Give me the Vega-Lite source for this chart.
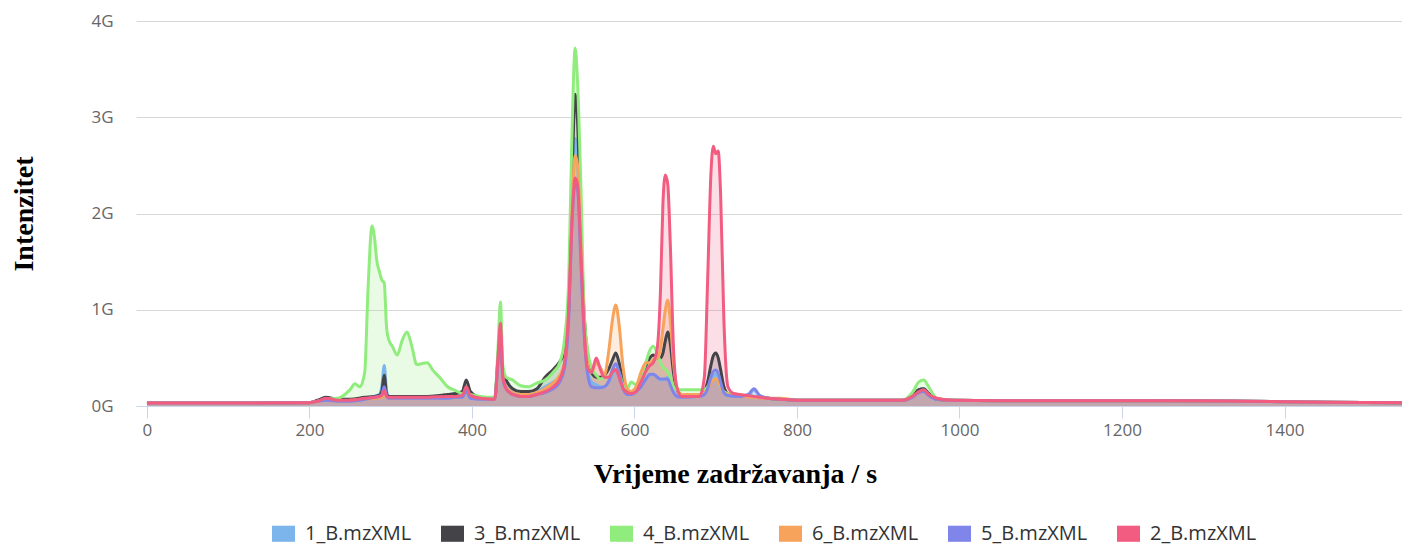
{
  "$schema": "https://vega.github.io/schema/vega-lite/v6.json",
  "width": 1266,
  "height": 385,
  "autosize": {"type": "none"},
  "padding": {"left": 136, "top": 21, "right": 0, "bottom": 141},
  "background": "white",
  "config": {"view": {"stroke": null}, "font": "Open Sans"},
  "data": {"values": [
    {"s":"1_B.mzXML","t":0,"i":0.03},{"s":"1_B.mzXML","t":100,"i":0.03},{"s":"1_B.mzXML","t":200,"i":0.035},{"s":"1_B.mzXML","t":210,"i":0.05},{"s":"1_B.mzXML","t":220,"i":0.07},{"s":"1_B.mzXML","t":235,"i":0.06},{"s":"1_B.mzXML","t":250,"i":0.06},{"s":"1_B.mzXML","t":268,"i":0.08},{"s":"1_B.mzXML","t":280,"i":0.1},{"s":"1_B.mzXML","t":286,"i":0.12},{"s":"1_B.mzXML","t":289,"i":0.2},{"s":"1_B.mzXML","t":292,"i":0.42},{"s":"1_B.mzXML","t":295,"i":0.15},{"s":"1_B.mzXML","t":298,"i":0.1},{"s":"1_B.mzXML","t":320,"i":0.09},{"s":"1_B.mzXML","t":345,"i":0.1},{"s":"1_B.mzXML","t":370,"i":0.1},{"s":"1_B.mzXML","t":388,"i":0.12},{"s":"1_B.mzXML","t":393,"i":0.2},{"s":"1_B.mzXML","t":398,"i":0.12},{"s":"1_B.mzXML","t":410,"i":0.08},{"s":"1_B.mzXML","t":428,"i":0.08},{"s":"1_B.mzXML","t":432,"i":0.5},{"s":"1_B.mzXML","t":435,"i":0.8},{"s":"1_B.mzXML","t":438,"i":0.35},{"s":"1_B.mzXML","t":442,"i":0.22},{"s":"1_B.mzXML","t":450,"i":0.15},{"s":"1_B.mzXML","t":460,"i":0.13},{"s":"1_B.mzXML","t":470,"i":0.13},{"s":"1_B.mzXML","t":480,"i":0.15},{"s":"1_B.mzXML","t":490,"i":0.2},{"s":"1_B.mzXML","t":500,"i":0.25},{"s":"1_B.mzXML","t":508,"i":0.3},{"s":"1_B.mzXML","t":514,"i":0.45},{"s":"1_B.mzXML","t":519,"i":1.1},{"s":"1_B.mzXML","t":523,"i":2.1},{"s":"1_B.mzXML","t":527,"i":2.78},{"s":"1_B.mzXML","t":530,"i":2.55},{"s":"1_B.mzXML","t":534,"i":1.6},{"s":"1_B.mzXML","t":538,"i":0.8},{"s":"1_B.mzXML","t":542,"i":0.4},{"s":"1_B.mzXML","t":547,"i":0.25},{"s":"1_B.mzXML","t":553,"i":0.22},{"s":"1_B.mzXML","t":558,"i":0.2},{"s":"1_B.mzXML","t":563,"i":0.2},{"s":"1_B.mzXML","t":568,"i":0.25},{"s":"1_B.mzXML","t":573,"i":0.32},{"s":"1_B.mzXML","t":577,"i":0.38},{"s":"1_B.mzXML","t":581,"i":0.3},{"s":"1_B.mzXML","t":586,"i":0.18},{"s":"1_B.mzXML","t":591,"i":0.12},{"s":"1_B.mzXML","t":596,"i":0.12},{"s":"1_B.mzXML","t":602,"i":0.15},{"s":"1_B.mzXML","t":608,"i":0.2},{"s":"1_B.mzXML","t":614,"i":0.28},{"s":"1_B.mzXML","t":619,"i":0.32},{"s":"1_B.mzXML","t":623,"i":0.33},{"s":"1_B.mzXML","t":628,"i":0.3},{"s":"1_B.mzXML","t":632,"i":0.27},{"s":"1_B.mzXML","t":638,"i":0.28},{"s":"1_B.mzXML","t":641,"i":0.3},{"s":"1_B.mzXML","t":644,"i":0.25},{"s":"1_B.mzXML","t":648,"i":0.15},{"s":"1_B.mzXML","t":652,"i":0.11},{"s":"1_B.mzXML","t":658,"i":0.1},{"s":"1_B.mzXML","t":680,"i":0.1},{"s":"1_B.mzXML","t":686,"i":0.12},{"s":"1_B.mzXML","t":690,"i":0.18},{"s":"1_B.mzXML","t":694,"i":0.27},{"s":"1_B.mzXML","t":697,"i":0.31},{"s":"1_B.mzXML","t":700,"i":0.33},{"s":"1_B.mzXML","t":703,"i":0.3},{"s":"1_B.mzXML","t":706,"i":0.22},{"s":"1_B.mzXML","t":710,"i":0.14},{"s":"1_B.mzXML","t":715,"i":0.11},{"s":"1_B.mzXML","t":730,"i":0.1},{"s":"1_B.mzXML","t":740,"i":0.11},{"s":"1_B.mzXML","t":747,"i":0.17},{"s":"1_B.mzXML","t":754,"i":0.11},{"s":"1_B.mzXML","t":765,"i":0.08},{"s":"1_B.mzXML","t":780,"i":0.07},{"s":"1_B.mzXML","t":800,"i":0.06},{"s":"1_B.mzXML","t":930,"i":0.06},{"s":"1_B.mzXML","t":942,"i":0.1},{"s":"1_B.mzXML","t":950,"i":0.17},{"s":"1_B.mzXML","t":956,"i":0.18},{"s":"1_B.mzXML","t":962,"i":0.13},{"s":"1_B.mzXML","t":972,"i":0.07},{"s":"1_B.mzXML","t":990,"i":0.06},{"s":"1_B.mzXML","t":1050,"i":0.055},{"s":"1_B.mzXML","t":1150,"i":0.055},{"s":"1_B.mzXML","t":1250,"i":0.055},{"s":"1_B.mzXML","t":1350,"i":0.05},{"s":"1_B.mzXML","t":1450,"i":0.04},{"s":"1_B.mzXML","t":1545,"i":0.035},

    {"s":"3_B.mzXML","t":0,"i":0.03},{"s":"3_B.mzXML","t":100,"i":0.03},{"s":"3_B.mzXML","t":200,"i":0.035},{"s":"3_B.mzXML","t":210,"i":0.06},{"s":"3_B.mzXML","t":220,"i":0.09},{"s":"3_B.mzXML","t":235,"i":0.07},{"s":"3_B.mzXML","t":250,"i":0.07},{"s":"3_B.mzXML","t":268,"i":0.09},{"s":"3_B.mzXML","t":280,"i":0.1},{"s":"3_B.mzXML","t":286,"i":0.11},{"s":"3_B.mzXML","t":289,"i":0.15},{"s":"3_B.mzXML","t":292,"i":0.32},{"s":"3_B.mzXML","t":295,"i":0.12},{"s":"3_B.mzXML","t":298,"i":0.1},{"s":"3_B.mzXML","t":320,"i":0.1},{"s":"3_B.mzXML","t":345,"i":0.1},{"s":"3_B.mzXML","t":360,"i":0.11},{"s":"3_B.mzXML","t":370,"i":0.12},{"s":"3_B.mzXML","t":380,"i":0.13},{"s":"3_B.mzXML","t":388,"i":0.15},{"s":"3_B.mzXML","t":393,"i":0.27},{"s":"3_B.mzXML","t":398,"i":0.15},{"s":"3_B.mzXML","t":410,"i":0.09},{"s":"3_B.mzXML","t":428,"i":0.08},{"s":"3_B.mzXML","t":432,"i":0.5},{"s":"3_B.mzXML","t":435,"i":0.82},{"s":"3_B.mzXML","t":438,"i":0.35},{"s":"3_B.mzXML","t":442,"i":0.27},{"s":"3_B.mzXML","t":450,"i":0.18},{"s":"3_B.mzXML","t":460,"i":0.15},{"s":"3_B.mzXML","t":470,"i":0.15},{"s":"3_B.mzXML","t":480,"i":0.18},{"s":"3_B.mzXML","t":490,"i":0.3},{"s":"3_B.mzXML","t":500,"i":0.38},{"s":"3_B.mzXML","t":508,"i":0.46},{"s":"3_B.mzXML","t":514,"i":0.56},{"s":"3_B.mzXML","t":519,"i":1.0},{"s":"3_B.mzXML","t":523,"i":2.3},{"s":"3_B.mzXML","t":527,"i":3.24},{"s":"3_B.mzXML","t":530,"i":2.95},{"s":"3_B.mzXML","t":534,"i":1.8},{"s":"3_B.mzXML","t":538,"i":0.95},{"s":"3_B.mzXML","t":542,"i":0.55},{"s":"3_B.mzXML","t":547,"i":0.35},{"s":"3_B.mzXML","t":553,"i":0.3},{"s":"3_B.mzXML","t":558,"i":0.3},{"s":"3_B.mzXML","t":563,"i":0.32},{"s":"3_B.mzXML","t":568,"i":0.38},{"s":"3_B.mzXML","t":573,"i":0.48},{"s":"3_B.mzXML","t":577,"i":0.55},{"s":"3_B.mzXML","t":581,"i":0.45},{"s":"3_B.mzXML","t":586,"i":0.25},{"s":"3_B.mzXML","t":591,"i":0.15},{"s":"3_B.mzXML","t":596,"i":0.15},{"s":"3_B.mzXML","t":602,"i":0.18},{"s":"3_B.mzXML","t":608,"i":0.28},{"s":"3_B.mzXML","t":614,"i":0.42},{"s":"3_B.mzXML","t":619,"i":0.5},{"s":"3_B.mzXML","t":623,"i":0.53},{"s":"3_B.mzXML","t":628,"i":0.5},{"s":"3_B.mzXML","t":632,"i":0.5},{"s":"3_B.mzXML","t":635,"i":0.55},{"s":"3_B.mzXML","t":638,"i":0.68},{"s":"3_B.mzXML","t":641,"i":0.77},{"s":"3_B.mzXML","t":644,"i":0.65},{"s":"3_B.mzXML","t":648,"i":0.35},{"s":"3_B.mzXML","t":652,"i":0.18},{"s":"3_B.mzXML","t":658,"i":0.12},{"s":"3_B.mzXML","t":680,"i":0.12},{"s":"3_B.mzXML","t":686,"i":0.15},{"s":"3_B.mzXML","t":690,"i":0.25},{"s":"3_B.mzXML","t":694,"i":0.42},{"s":"3_B.mzXML","t":697,"i":0.52},{"s":"3_B.mzXML","t":700,"i":0.55},{"s":"3_B.mzXML","t":703,"i":0.5},{"s":"3_B.mzXML","t":706,"i":0.38},{"s":"3_B.mzXML","t":710,"i":0.2},{"s":"3_B.mzXML","t":715,"i":0.13},{"s":"3_B.mzXML","t":730,"i":0.11},{"s":"3_B.mzXML","t":747,"i":0.1},{"s":"3_B.mzXML","t":765,"i":0.08},{"s":"3_B.mzXML","t":780,"i":0.07},{"s":"3_B.mzXML","t":800,"i":0.06},{"s":"3_B.mzXML","t":930,"i":0.06},{"s":"3_B.mzXML","t":942,"i":0.1},{"s":"3_B.mzXML","t":950,"i":0.17},{"s":"3_B.mzXML","t":956,"i":0.18},{"s":"3_B.mzXML","t":962,"i":0.13},{"s":"3_B.mzXML","t":972,"i":0.07},{"s":"3_B.mzXML","t":990,"i":0.06},{"s":"3_B.mzXML","t":1050,"i":0.055},{"s":"3_B.mzXML","t":1150,"i":0.055},{"s":"3_B.mzXML","t":1250,"i":0.055},{"s":"3_B.mzXML","t":1350,"i":0.05},{"s":"3_B.mzXML","t":1450,"i":0.04},{"s":"3_B.mzXML","t":1545,"i":0.035},

    {"s":"4_B.mzXML","t":0,"i":0.03},{"s":"4_B.mzXML","t":100,"i":0.03},{"s":"4_B.mzXML","t":200,"i":0.035},{"s":"4_B.mzXML","t":210,"i":0.05},{"s":"4_B.mzXML","t":220,"i":0.07},{"s":"4_B.mzXML","t":235,"i":0.08},{"s":"4_B.mzXML","t":250,"i":0.17},{"s":"4_B.mzXML","t":256,"i":0.23},{"s":"4_B.mzXML","t":262,"i":0.2},{"s":"4_B.mzXML","t":268,"i":0.35},{"s":"4_B.mzXML","t":272,"i":1.2},{"s":"4_B.mzXML","t":277,"i":1.87},{"s":"4_B.mzXML","t":280,"i":1.75},{"s":"4_B.mzXML","t":283,"i":1.5},{"s":"4_B.mzXML","t":286,"i":1.4},{"s":"4_B.mzXML","t":289,"i":1.31},{"s":"4_B.mzXML","t":292,"i":1.28},{"s":"4_B.mzXML","t":295,"i":0.8},{"s":"4_B.mzXML","t":298,"i":0.68},{"s":"4_B.mzXML","t":302,"i":0.62},{"s":"4_B.mzXML","t":308,"i":0.53},{"s":"4_B.mzXML","t":314,"i":0.68},{"s":"4_B.mzXML","t":320,"i":0.77},{"s":"4_B.mzXML","t":326,"i":0.62},{"s":"4_B.mzXML","t":332,"i":0.43},{"s":"4_B.mzXML","t":338,"i":0.44},{"s":"4_B.mzXML","t":345,"i":0.45},{"s":"4_B.mzXML","t":352,"i":0.37},{"s":"4_B.mzXML","t":360,"i":0.3},{"s":"4_B.mzXML","t":370,"i":0.2},{"s":"4_B.mzXML","t":380,"i":0.16},{"s":"4_B.mzXML","t":388,"i":0.13},{"s":"4_B.mzXML","t":393,"i":0.13},{"s":"4_B.mzXML","t":398,"i":0.12},{"s":"4_B.mzXML","t":410,"i":0.1},{"s":"4_B.mzXML","t":428,"i":0.09},{"s":"4_B.mzXML","t":432,"i":0.6},{"s":"4_B.mzXML","t":435,"i":1.08},{"s":"4_B.mzXML","t":438,"i":0.42},{"s":"4_B.mzXML","t":442,"i":0.3},{"s":"4_B.mzXML","t":450,"i":0.27},{"s":"4_B.mzXML","t":460,"i":0.21},{"s":"4_B.mzXML","t":470,"i":0.2},{"s":"4_B.mzXML","t":480,"i":0.24},{"s":"4_B.mzXML","t":490,"i":0.27},{"s":"4_B.mzXML","t":500,"i":0.35},{"s":"4_B.mzXML","t":508,"i":0.45},{"s":"4_B.mzXML","t":514,"i":0.7},{"s":"4_B.mzXML","t":519,"i":1.3},{"s":"4_B.mzXML","t":523,"i":2.8},{"s":"4_B.mzXML","t":527,"i":3.72},{"s":"4_B.mzXML","t":530,"i":3.35},{"s":"4_B.mzXML","t":534,"i":2.3},{"s":"4_B.mzXML","t":538,"i":1.0},{"s":"4_B.mzXML","t":542,"i":0.6},{"s":"4_B.mzXML","t":547,"i":0.4},{"s":"4_B.mzXML","t":553,"i":0.32},{"s":"4_B.mzXML","t":558,"i":0.28},{"s":"4_B.mzXML","t":563,"i":0.3},{"s":"4_B.mzXML","t":568,"i":0.3},{"s":"4_B.mzXML","t":573,"i":0.35},{"s":"4_B.mzXML","t":577,"i":0.41},{"s":"4_B.mzXML","t":581,"i":0.35},{"s":"4_B.mzXML","t":586,"i":0.22},{"s":"4_B.mzXML","t":591,"i":0.18},{"s":"4_B.mzXML","t":596,"i":0.25},{"s":"4_B.mzXML","t":602,"i":0.22},{"s":"4_B.mzXML","t":608,"i":0.3},{"s":"4_B.mzXML","t":614,"i":0.45},{"s":"4_B.mzXML","t":619,"i":0.58},{"s":"4_B.mzXML","t":623,"i":0.62},{"s":"4_B.mzXML","t":628,"i":0.55},{"s":"4_B.mzXML","t":632,"i":0.45},{"s":"4_B.mzXML","t":635,"i":0.4},{"s":"4_B.mzXML","t":638,"i":0.38},{"s":"4_B.mzXML","t":641,"i":0.35},{"s":"4_B.mzXML","t":644,"i":0.3},{"s":"4_B.mzXML","t":648,"i":0.2},{"s":"4_B.mzXML","t":652,"i":0.17},{"s":"4_B.mzXML","t":680,"i":0.17},{"s":"4_B.mzXML","t":686,"i":0.17},{"s":"4_B.mzXML","t":690,"i":0.2},{"s":"4_B.mzXML","t":694,"i":0.25},{"s":"4_B.mzXML","t":697,"i":0.27},{"s":"4_B.mzXML","t":700,"i":0.28},{"s":"4_B.mzXML","t":703,"i":0.26},{"s":"4_B.mzXML","t":706,"i":0.2},{"s":"4_B.mzXML","t":710,"i":0.15},{"s":"4_B.mzXML","t":715,"i":0.13},{"s":"4_B.mzXML","t":730,"i":0.11},{"s":"4_B.mzXML","t":747,"i":0.1},{"s":"4_B.mzXML","t":765,"i":0.08},{"s":"4_B.mzXML","t":780,"i":0.07},{"s":"4_B.mzXML","t":800,"i":0.06},{"s":"4_B.mzXML","t":930,"i":0.06},{"s":"4_B.mzXML","t":942,"i":0.14},{"s":"4_B.mzXML","t":950,"i":0.25},{"s":"4_B.mzXML","t":956,"i":0.27},{"s":"4_B.mzXML","t":962,"i":0.2},{"s":"4_B.mzXML","t":972,"i":0.08},{"s":"4_B.mzXML","t":990,"i":0.06},{"s":"4_B.mzXML","t":1050,"i":0.055},{"s":"4_B.mzXML","t":1150,"i":0.055},{"s":"4_B.mzXML","t":1250,"i":0.055},{"s":"4_B.mzXML","t":1350,"i":0.05},{"s":"4_B.mzXML","t":1450,"i":0.04},{"s":"4_B.mzXML","t":1545,"i":0.035},

    {"s":"6_B.mzXML","t":0,"i":0.03},{"s":"6_B.mzXML","t":100,"i":0.03},{"s":"6_B.mzXML","t":200,"i":0.035},{"s":"6_B.mzXML","t":210,"i":0.05},{"s":"6_B.mzXML","t":220,"i":0.06},{"s":"6_B.mzXML","t":235,"i":0.05},{"s":"6_B.mzXML","t":250,"i":0.06},{"s":"6_B.mzXML","t":280,"i":0.08},{"s":"6_B.mzXML","t":289,"i":0.09},{"s":"6_B.mzXML","t":292,"i":0.12},{"s":"6_B.mzXML","t":295,"i":0.09},{"s":"6_B.mzXML","t":298,"i":0.08},{"s":"6_B.mzXML","t":345,"i":0.08},{"s":"6_B.mzXML","t":370,"i":0.09},{"s":"6_B.mzXML","t":380,"i":0.1},{"s":"6_B.mzXML","t":388,"i":0.1},{"s":"6_B.mzXML","t":393,"i":0.18},{"s":"6_B.mzXML","t":398,"i":0.1},{"s":"6_B.mzXML","t":410,"i":0.08},{"s":"6_B.mzXML","t":428,"i":0.07},{"s":"6_B.mzXML","t":432,"i":0.45},{"s":"6_B.mzXML","t":435,"i":0.78},{"s":"6_B.mzXML","t":438,"i":0.3},{"s":"6_B.mzXML","t":442,"i":0.2},{"s":"6_B.mzXML","t":450,"i":0.14},{"s":"6_B.mzXML","t":460,"i":0.12},{"s":"6_B.mzXML","t":470,"i":0.12},{"s":"6_B.mzXML","t":480,"i":0.14},{"s":"6_B.mzXML","t":490,"i":0.18},{"s":"6_B.mzXML","t":500,"i":0.24},{"s":"6_B.mzXML","t":508,"i":0.32},{"s":"6_B.mzXML","t":514,"i":0.45},{"s":"6_B.mzXML","t":519,"i":1.0},{"s":"6_B.mzXML","t":523,"i":2.0},{"s":"6_B.mzXML","t":527,"i":2.6},{"s":"6_B.mzXML","t":530,"i":2.5},{"s":"6_B.mzXML","t":534,"i":1.7},{"s":"6_B.mzXML","t":538,"i":0.85},{"s":"6_B.mzXML","t":542,"i":0.45},{"s":"6_B.mzXML","t":547,"i":0.35},{"s":"6_B.mzXML","t":553,"i":0.45},{"s":"6_B.mzXML","t":558,"i":0.4},{"s":"6_B.mzXML","t":563,"i":0.32},{"s":"6_B.mzXML","t":568,"i":0.55},{"s":"6_B.mzXML","t":573,"i":0.9},{"s":"6_B.mzXML","t":577,"i":1.05},{"s":"6_B.mzXML","t":581,"i":0.85},{"s":"6_B.mzXML","t":586,"i":0.4},{"s":"6_B.mzXML","t":591,"i":0.18},{"s":"6_B.mzXML","t":596,"i":0.15},{"s":"6_B.mzXML","t":602,"i":0.2},{"s":"6_B.mzXML","t":608,"i":0.35},{"s":"6_B.mzXML","t":614,"i":0.45},{"s":"6_B.mzXML","t":619,"i":0.45},{"s":"6_B.mzXML","t":623,"i":0.48},{"s":"6_B.mzXML","t":628,"i":0.5},{"s":"6_B.mzXML","t":632,"i":0.6},{"s":"6_B.mzXML","t":635,"i":0.8},{"s":"6_B.mzXML","t":638,"i":1.0},{"s":"6_B.mzXML","t":641,"i":1.1},{"s":"6_B.mzXML","t":644,"i":0.9},{"s":"6_B.mzXML","t":648,"i":0.45},{"s":"6_B.mzXML","t":652,"i":0.2},{"s":"6_B.mzXML","t":658,"i":0.12},{"s":"6_B.mzXML","t":680,"i":0.12},{"s":"6_B.mzXML","t":686,"i":0.14},{"s":"6_B.mzXML","t":690,"i":0.18},{"s":"6_B.mzXML","t":694,"i":0.24},{"s":"6_B.mzXML","t":697,"i":0.27},{"s":"6_B.mzXML","t":700,"i":0.28},{"s":"6_B.mzXML","t":703,"i":0.26},{"s":"6_B.mzXML","t":706,"i":0.2},{"s":"6_B.mzXML","t":710,"i":0.14},{"s":"6_B.mzXML","t":715,"i":0.12},{"s":"6_B.mzXML","t":730,"i":0.1},{"s":"6_B.mzXML","t":747,"i":0.09},{"s":"6_B.mzXML","t":765,"i":0.08},{"s":"6_B.mzXML","t":780,"i":0.08},{"s":"6_B.mzXML","t":800,"i":0.06},{"s":"6_B.mzXML","t":930,"i":0.06},{"s":"6_B.mzXML","t":942,"i":0.09},{"s":"6_B.mzXML","t":950,"i":0.14},{"s":"6_B.mzXML","t":956,"i":0.15},{"s":"6_B.mzXML","t":962,"i":0.12},{"s":"6_B.mzXML","t":972,"i":0.07},{"s":"6_B.mzXML","t":990,"i":0.06},{"s":"6_B.mzXML","t":1050,"i":0.055},{"s":"6_B.mzXML","t":1150,"i":0.055},{"s":"6_B.mzXML","t":1250,"i":0.055},{"s":"6_B.mzXML","t":1350,"i":0.05},{"s":"6_B.mzXML","t":1450,"i":0.04},{"s":"6_B.mzXML","t":1545,"i":0.035},

    {"s":"5_B.mzXML","t":0,"i":0.03},{"s":"5_B.mzXML","t":100,"i":0.03},{"s":"5_B.mzXML","t":200,"i":0.035},{"s":"5_B.mzXML","t":210,"i":0.05},{"s":"5_B.mzXML","t":220,"i":0.06},{"s":"5_B.mzXML","t":235,"i":0.05},{"s":"5_B.mzXML","t":250,"i":0.05},{"s":"5_B.mzXML","t":280,"i":0.09},{"s":"5_B.mzXML","t":286,"i":0.1},{"s":"5_B.mzXML","t":289,"i":0.12},{"s":"5_B.mzXML","t":292,"i":0.2},{"s":"5_B.mzXML","t":295,"i":0.1},{"s":"5_B.mzXML","t":298,"i":0.08},{"s":"5_B.mzXML","t":345,"i":0.08},{"s":"5_B.mzXML","t":370,"i":0.08},{"s":"5_B.mzXML","t":380,"i":0.09},{"s":"5_B.mzXML","t":388,"i":0.09},{"s":"5_B.mzXML","t":393,"i":0.15},{"s":"5_B.mzXML","t":398,"i":0.08},{"s":"5_B.mzXML","t":410,"i":0.07},{"s":"5_B.mzXML","t":428,"i":0.07},{"s":"5_B.mzXML","t":432,"i":0.45},{"s":"5_B.mzXML","t":435,"i":0.75},{"s":"5_B.mzXML","t":438,"i":0.28},{"s":"5_B.mzXML","t":442,"i":0.18},{"s":"5_B.mzXML","t":450,"i":0.12},{"s":"5_B.mzXML","t":460,"i":0.1},{"s":"5_B.mzXML","t":470,"i":0.1},{"s":"5_B.mzXML","t":480,"i":0.12},{"s":"5_B.mzXML","t":490,"i":0.14},{"s":"5_B.mzXML","t":500,"i":0.18},{"s":"5_B.mzXML","t":508,"i":0.25},{"s":"5_B.mzXML","t":514,"i":0.4},{"s":"5_B.mzXML","t":519,"i":0.9},{"s":"5_B.mzXML","t":523,"i":1.9},{"s":"5_B.mzXML","t":527,"i":2.3},{"s":"5_B.mzXML","t":530,"i":2.25},{"s":"5_B.mzXML","t":534,"i":1.5},{"s":"5_B.mzXML","t":538,"i":0.75},{"s":"5_B.mzXML","t":542,"i":0.35},{"s":"5_B.mzXML","t":547,"i":0.2},{"s":"5_B.mzXML","t":553,"i":0.19},{"s":"5_B.mzXML","t":558,"i":0.19},{"s":"5_B.mzXML","t":563,"i":0.2},{"s":"5_B.mzXML","t":568,"i":0.25},{"s":"5_B.mzXML","t":573,"i":0.38},{"s":"5_B.mzXML","t":577,"i":0.44},{"s":"5_B.mzXML","t":581,"i":0.35},{"s":"5_B.mzXML","t":586,"i":0.18},{"s":"5_B.mzXML","t":591,"i":0.12},{"s":"5_B.mzXML","t":596,"i":0.12},{"s":"5_B.mzXML","t":602,"i":0.15},{"s":"5_B.mzXML","t":608,"i":0.2},{"s":"5_B.mzXML","t":614,"i":0.28},{"s":"5_B.mzXML","t":619,"i":0.33},{"s":"5_B.mzXML","t":623,"i":0.33},{"s":"5_B.mzXML","t":628,"i":0.3},{"s":"5_B.mzXML","t":632,"i":0.28},{"s":"5_B.mzXML","t":638,"i":0.28},{"s":"5_B.mzXML","t":641,"i":0.28},{"s":"5_B.mzXML","t":644,"i":0.22},{"s":"5_B.mzXML","t":648,"i":0.14},{"s":"5_B.mzXML","t":652,"i":0.1},{"s":"5_B.mzXML","t":658,"i":0.09},{"s":"5_B.mzXML","t":680,"i":0.1},{"s":"5_B.mzXML","t":686,"i":0.12},{"s":"5_B.mzXML","t":690,"i":0.18},{"s":"5_B.mzXML","t":694,"i":0.3},{"s":"5_B.mzXML","t":697,"i":0.36},{"s":"5_B.mzXML","t":700,"i":0.375},{"s":"5_B.mzXML","t":703,"i":0.34},{"s":"5_B.mzXML","t":706,"i":0.25},{"s":"5_B.mzXML","t":710,"i":0.14},{"s":"5_B.mzXML","t":715,"i":0.11},{"s":"5_B.mzXML","t":730,"i":0.1},{"s":"5_B.mzXML","t":740,"i":0.12},{"s":"5_B.mzXML","t":747,"i":0.18},{"s":"5_B.mzXML","t":754,"i":0.11},{"s":"5_B.mzXML","t":765,"i":0.08},{"s":"5_B.mzXML","t":780,"i":0.07},{"s":"5_B.mzXML","t":800,"i":0.06},{"s":"5_B.mzXML","t":930,"i":0.06},{"s":"5_B.mzXML","t":942,"i":0.09},{"s":"5_B.mzXML","t":950,"i":0.14},{"s":"5_B.mzXML","t":956,"i":0.15},{"s":"5_B.mzXML","t":962,"i":0.11},{"s":"5_B.mzXML","t":972,"i":0.07},{"s":"5_B.mzXML","t":990,"i":0.06},{"s":"5_B.mzXML","t":1050,"i":0.055},{"s":"5_B.mzXML","t":1150,"i":0.055},{"s":"5_B.mzXML","t":1250,"i":0.055},{"s":"5_B.mzXML","t":1350,"i":0.05},{"s":"5_B.mzXML","t":1450,"i":0.04},{"s":"5_B.mzXML","t":1545,"i":0.035},

    {"s":"2_B.mzXML","t":0,"i":0.03},{"s":"2_B.mzXML","t":100,"i":0.03},{"s":"2_B.mzXML","t":200,"i":0.035},{"s":"2_B.mzXML","t":210,"i":0.05},{"s":"2_B.mzXML","t":220,"i":0.08},{"s":"2_B.mzXML","t":235,"i":0.06},{"s":"2_B.mzXML","t":250,"i":0.06},{"s":"2_B.mzXML","t":268,"i":0.08},{"s":"2_B.mzXML","t":280,"i":0.09},{"s":"2_B.mzXML","t":286,"i":0.1},{"s":"2_B.mzXML","t":289,"i":0.11},{"s":"2_B.mzXML","t":292,"i":0.16},{"s":"2_B.mzXML","t":295,"i":0.1},{"s":"2_B.mzXML","t":298,"i":0.09},{"s":"2_B.mzXML","t":345,"i":0.09},{"s":"2_B.mzXML","t":370,"i":0.1},{"s":"2_B.mzXML","t":380,"i":0.1},{"s":"2_B.mzXML","t":388,"i":0.11},{"s":"2_B.mzXML","t":393,"i":0.2},{"s":"2_B.mzXML","t":398,"i":0.11},{"s":"2_B.mzXML","t":410,"i":0.08},{"s":"2_B.mzXML","t":428,"i":0.07},{"s":"2_B.mzXML","t":432,"i":0.5},{"s":"2_B.mzXML","t":435,"i":0.86},{"s":"2_B.mzXML","t":438,"i":0.3},{"s":"2_B.mzXML","t":442,"i":0.18},{"s":"2_B.mzXML","t":450,"i":0.12},{"s":"2_B.mzXML","t":460,"i":0.1},{"s":"2_B.mzXML","t":470,"i":0.1},{"s":"2_B.mzXML","t":480,"i":0.12},{"s":"2_B.mzXML","t":490,"i":0.15},{"s":"2_B.mzXML","t":500,"i":0.2},{"s":"2_B.mzXML","t":508,"i":0.28},{"s":"2_B.mzXML","t":514,"i":0.45},{"s":"2_B.mzXML","t":519,"i":1.0},{"s":"2_B.mzXML","t":523,"i":1.9},{"s":"2_B.mzXML","t":527,"i":2.37},{"s":"2_B.mzXML","t":530,"i":2.3},{"s":"2_B.mzXML","t":534,"i":1.6},{"s":"2_B.mzXML","t":538,"i":0.8},{"s":"2_B.mzXML","t":542,"i":0.4},{"s":"2_B.mzXML","t":547,"i":0.35},{"s":"2_B.mzXML","t":553,"i":0.5},{"s":"2_B.mzXML","t":558,"i":0.38},{"s":"2_B.mzXML","t":563,"i":0.3},{"s":"2_B.mzXML","t":568,"i":0.3},{"s":"2_B.mzXML","t":573,"i":0.35},{"s":"2_B.mzXML","t":577,"i":0.38},{"s":"2_B.mzXML","t":581,"i":0.3},{"s":"2_B.mzXML","t":586,"i":0.18},{"s":"2_B.mzXML","t":591,"i":0.14},{"s":"2_B.mzXML","t":596,"i":0.13},{"s":"2_B.mzXML","t":602,"i":0.15},{"s":"2_B.mzXML","t":608,"i":0.25},{"s":"2_B.mzXML","t":614,"i":0.36},{"s":"2_B.mzXML","t":619,"i":0.42},{"s":"2_B.mzXML","t":623,"i":0.45},{"s":"2_B.mzXML","t":628,"i":0.6},{"s":"2_B.mzXML","t":632,"i":1.2},{"s":"2_B.mzXML","t":635,"i":2.1},{"s":"2_B.mzXML","t":638,"i":2.4},{"s":"2_B.mzXML","t":641,"i":2.3},{"s":"2_B.mzXML","t":644,"i":1.7},{"s":"2_B.mzXML","t":648,"i":0.6},{"s":"2_B.mzXML","t":652,"i":0.2},{"s":"2_B.mzXML","t":658,"i":0.1},{"s":"2_B.mzXML","t":680,"i":0.1},{"s":"2_B.mzXML","t":686,"i":0.3},{"s":"2_B.mzXML","t":690,"i":1.3},{"s":"2_B.mzXML","t":694,"i":2.4},{"s":"2_B.mzXML","t":697,"i":2.7},{"s":"2_B.mzXML","t":700,"i":2.62},{"s":"2_B.mzXML","t":703,"i":2.65},{"s":"2_B.mzXML","t":706,"i":2.2},{"s":"2_B.mzXML","t":710,"i":0.9},{"s":"2_B.mzXML","t":715,"i":0.2},{"s":"2_B.mzXML","t":722,"i":0.13},{"s":"2_B.mzXML","t":730,"i":0.12},{"s":"2_B.mzXML","t":747,"i":0.1},{"s":"2_B.mzXML","t":765,"i":0.08},{"s":"2_B.mzXML","t":780,"i":0.07},{"s":"2_B.mzXML","t":800,"i":0.06},{"s":"2_B.mzXML","t":930,"i":0.06},{"s":"2_B.mzXML","t":942,"i":0.1},{"s":"2_B.mzXML","t":950,"i":0.15},{"s":"2_B.mzXML","t":956,"i":0.17},{"s":"2_B.mzXML","t":962,"i":0.12},{"s":"2_B.mzXML","t":972,"i":0.08},{"s":"2_B.mzXML","t":990,"i":0.06},{"s":"2_B.mzXML","t":1050,"i":0.055},{"s":"2_B.mzXML","t":1150,"i":0.055},{"s":"2_B.mzXML","t":1250,"i":0.055},{"s":"2_B.mzXML","t":1350,"i":0.05},{"s":"2_B.mzXML","t":1450,"i":0.04},{"s":"2_B.mzXML","t":1545,"i":0.035}
  ]},
  "encoding": {
    "x": {
      "field": "t", "type": "quantitative",
      "scale": {"domain": [-13.5, 1544.6], "nice": false, "zero": false},
      "axis": {
        "values": [0, 200, 400, 600, 800, 1000, 1200, 1400],
        "format": "d",
        "title": "Vrijeme zadržavanja / s",
        "grid": false,
        "domainColor": "#ccd6eb",
        "tickColor": "#ccd6eb",
        "tickSize": 12,
        "labelFontSize": 17,
        "labelColor": "#666666",
        "labelPadding": 4,
        "titleFont": "Liberation Serif",
        "titleFontSize": 28,
        "titleFontWeight": "bold",
        "titleColor": "#000000",
        "titlePadding": 22,
        "titleX": 599
      }
    },
    "y": {
      "field": "i", "type": "quantitative",
      "stack": null,
      "scale": {"domain": [0, 4], "nice": false},
      "axis": {
        "values": [0, 1, 2, 3, 4],
        "labelExpr": "datum.value + 'G'",
        "domain": false,
        "ticks": false,
        "gridColor": "#d8d8d8",
        "labelFontSize": 17,
        "labelColor": "#666666",
        "labelPadding": 23,
        "title": "Intenzitet",
        "titleFont": "Liberation Serif",
        "titleFontSize": 28,
        "titleFontWeight": "bold",
        "titleColor": "#000000",
        "titlePadding": 52
      }
    },
    "color": {
      "field": "s", "type": "nominal",
      "scale": {
        "domain": ["1_B.mzXML", "3_B.mzXML", "4_B.mzXML", "6_B.mzXML", "5_B.mzXML", "2_B.mzXML"],
        "range": ["#7cb5ec", "#434348", "#90ed7d", "#f7a35c", "#8085e9", "#f15c80"]
      },
      "legend": {
        "title": null,
        "orient": "none",
        "direction": "horizontal",
        "legendX": 136,
        "legendY": 501,
        "symbolType": "M-1,-0.7H1V0.7H-1Z",
        "symbolSize": 529,
        "symbolOpacity": 1,
        "symbolStrokeWidth": 0,
        "labelFontSize": 20,
        "labelColor": "#333333",
        "labelOffset": 10,
        "columnPadding": 29
      }
    }
  },
  "layer": [
    {"mark": {"type": "area", "fillOpacity": 0.2, "interpolate": "monotone"}},
    {"mark": {"type": "line", "strokeWidth": 3, "interpolate": "monotone"}}
  ]
}
